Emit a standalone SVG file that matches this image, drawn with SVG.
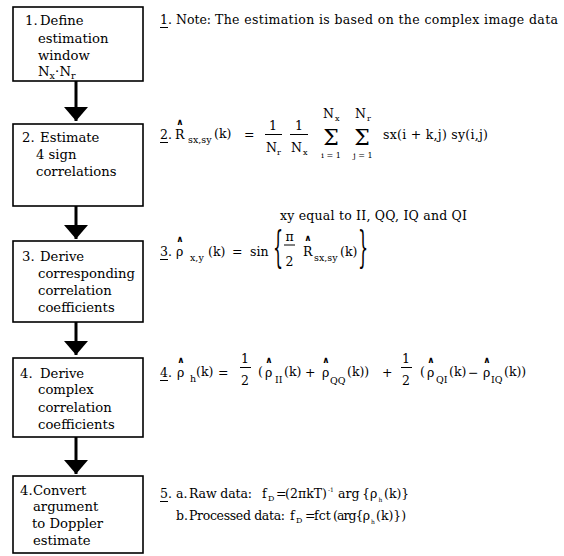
<svg xmlns="http://www.w3.org/2000/svg" width="564" height="556" viewBox="0 0 564 556">
<style>
text{font-family:"DejaVu Serif","Liberation Serif",serif;fill:#000}
.b{font-size:13.2px}
.m{font-size:12.5px}
.s{font-size:9.5px}
.t{font-size:8px}
.u{font-size:6px}
.sig{font-size:22px}
.hat{font-family:"DejaVu Sans",sans-serif;font-size:9px;font-weight:bold;text-anchor:middle}
.c{text-anchor:middle}
.br{font-size:42px}
.box{fill:#fff;stroke:#000;stroke-width:1.6}
.ln{stroke:#000;stroke-width:1;fill:none}
.shaft{stroke:#000;stroke-width:3;fill:none}
</style>
<defs>
<marker id="ah" viewBox="0 0 14 24" refX="14" refY="12" markerWidth="14" markerHeight="24" markerUnits="userSpaceOnUse" orient="auto">
<path d="M0,0 L14,12 L0,24 z" fill="#000"/>
</marker>
</defs>
<rect width="564" height="556" fill="#fff"/>

<g id="connectors">
<line class="shaft" x1="76" y1="81" x2="76" y2="121" marker-end="url(#ah)"/>
<line class="shaft" x1="76" y1="206" x2="76" y2="239" marker-end="url(#ah)"/>
<line class="shaft" x1="76" y1="322" x2="76" y2="355" marker-end="url(#ah)"/>
<line class="shaft" x1="76" y1="437" x2="76" y2="474" marker-end="url(#ah)"/>
</g>

<g id="node1">
<rect class="box" x="13" y="7" width="130" height="74"/>
<text class="b" y="25"><tspan x="25">1.</tspan><tspan x="40">Define</tspan></text>
<text class="b" x="38" y="43">estimation</text>
<text class="b" x="38" y="60">window</text>
<text class="b" x="38" y="76">N</text><text class="s" x="49.5" y="79">x</text><text class="b" x="55" y="76">·</text><text class="b" x="59.5" y="76">N</text><text class="s" x="71" y="79">r</text>
</g>

<g id="node2">
<rect class="box" x="13" y="124" width="130" height="82"/>
<text class="b" y="142"><tspan x="22">2.</tspan><tspan x="40">Estimate</tspan></text>
<text class="b" x="36" y="159">4 sign</text>
<text class="b" x="36" y="176">correlations</text>
</g>

<g id="node3">
<rect class="box" x="13" y="241" width="130" height="81"/>
<text class="b" y="261"><tspan x="22">3.</tspan><tspan x="40">Derive</tspan></text>
<text class="b" x="38" y="278">corresponding</text>
<text class="b" x="38" y="295">correlation</text>
<text class="b" x="38" y="312">coefficients</text>
</g>

<g id="node4">
<rect class="box" x="13" y="358" width="130" height="79"/>
<text class="b" y="378"><tspan x="20">4.</tspan><tspan x="40">Derive</tspan></text>
<text class="b" x="38" y="394">complex</text>
<text class="b" x="38" y="412">correlation</text>
<text class="b" x="38" y="429">coefficients</text>
</g>

<g id="node5">
<rect class="box" x="13" y="476" width="130" height="77"/>
<text class="b" y="495"><tspan x="20">4.</tspan><tspan x="33">Convert</tspan></text>
<text class="b" x="33" y="511">argument</text>
<text class="b" x="32" y="528">to Doppler</text>
<text class="b" x="33" y="545">estimate</text>
</g>

<g id="note1">
<text class="m" x="160" y="24">1</text><line class="ln" x1="160" y1="27.5" x2="168" y2="27.5"/>
<text class="m" x="168" y="24">. Note:</text>
<text class="m" x="215" y="24" textLength="343">The estimation is based on the complex image data</text>
</g>

<g id="formula2">
<text class="m" x="160" y="139">2</text><line class="ln" x1="160" y1="142.5" x2="168" y2="142.5"/><text class="m" x="168" y="139">.</text>
<text class="hat" x="180" y="125">∧</text>
<text class="m" x="175" y="139">R</text>
<text class="s" x="188" y="143">sx,sy</text>
<text class="m" x="214" y="138">(k)</text>
<text class="m" x="244" y="139">=</text>
<text class="m c" x="273" y="130">1</text><line class="ln" x1="265" y1="134.5" x2="282" y2="134.5"/>
<text class="m" x="266" y="152">N</text><text class="t" x="277" y="155">r</text>
<text class="m c" x="299" y="130">1</text><line class="ln" x1="290" y1="134.5" x2="308" y2="134.5"/>
<text class="m" x="291" y="152">N</text><text class="t" x="303" y="155">x</text>
<text class="sig c" x="331" y="145">Σ</text>
<text class="m" x="323" y="118">N</text><text class="t" x="335" y="121">x</text>
<text class="t c" x="331" y="158">i = 1</text>
<text class="sig c" x="362" y="145">Σ</text>
<text class="m" x="355" y="118">N</text><text class="t" x="367" y="121">r</text>
<text class="t c" x="363" y="158">j = 1</text>
<text class="m" x="383" y="139" textLength="105">sx(i + k,j) sy(i,j)</text>
</g>

<g id="xynote">
<text class="m" x="280" y="219.5" textLength="187">xy equal to II, QQ, IQ and QI</text>
</g>

<g id="formula3">
<text class="m" x="160" y="256">3</text><line class="ln" x1="160" y1="259.5" x2="168" y2="259.5"/><text class="m" x="168" y="256">.</text>
<text class="hat" x="180" y="242">∧</text>
<text class="m" x="176" y="256">ρ</text>
<text class="s" x="190" y="261">x,y</text>
<text class="m" x="208" y="256">(k)</text>
<text class="m" x="232" y="256">=</text>
<text class="m" x="250" y="256">sin</text>
<text class="br" transform="translate(273,262) scale(0.38,1)">{</text>
<text class="m c" x="289.5" y="241">π</text><line class="ln" x1="284" y1="245" x2="295" y2="245"/>
<text class="m c" x="289.5" y="266">2</text>
<text class="hat" x="308" y="241">∧</text>
<text class="m" x="303" y="256">R</text>
<text class="s" x="314" y="261">sx,sy</text>
<text class="m" x="340" y="256">(k)</text>
<text class="br" transform="translate(358,262) scale(0.38,1)">}</text>
</g>

<g id="formula4">
<text class="m" x="160" y="377">4</text><line class="ln" x1="160" y1="380.5" x2="168" y2="380.5"/><text class="m" x="168" y="377">.</text>
<text class="hat" x="181" y="363">∧</text>
<text class="m" x="177" y="377">ρ</text>
<text class="s" x="190" y="382">h</text>
<text class="m" x="196" y="376">(k)</text>
<text class="m" x="218" y="377">=</text>
<text class="m c" x="245" y="363">1</text><line class="ln" x1="240" y1="367.5" x2="251" y2="367.5"/>
<text class="m c" x="245" y="385">2</text>
<text class="m" x="258" y="376">(</text>
<text class="hat" x="269" y="363">∧</text>
<text class="m" x="265" y="377">ρ</text>
<text class="s" x="275" y="383">II</text>
<text class="m" x="284" y="376">(k)</text>
<text class="m" x="305" y="377">+</text>
<text class="hat" x="326" y="363">∧</text>
<text class="m" x="322" y="377">ρ</text>
<text class="s" x="330" y="384">QQ</text>
<text class="m" x="347" y="376">(k))</text>
<text class="m" x="382" y="377">+</text>
<text class="m c" x="406" y="363">1</text><line class="ln" x1="401" y1="367.5" x2="412" y2="367.5"/>
<text class="m c" x="406" y="385">2</text>
<text class="m" x="420" y="376">(</text>
<text class="hat" x="431" y="363">∧</text>
<text class="m" x="427" y="377">ρ</text>
<text class="s" x="436" y="383">QI</text>
<text class="m" x="449" y="376">(k)</text>
<text class="m" x="468" y="377">−</text>
<text class="hat" x="487" y="363">∧</text>
<text class="m" x="483" y="377">ρ</text>
<text class="s" x="491" y="383">IQ</text>
<text class="m" x="504" y="376">(k))</text>
</g>

<g id="formula5">
<text class="m" x="160" y="498">5</text><line class="ln" x1="160" y1="501.5" x2="168" y2="501.5"/><text class="m" x="168" y="498">.</text>
<text class="m" x="176" y="498">a.</text>
<text class="m" x="189" y="498" textLength="63">Raw data:</text>
<text class="m" x="262" y="498">f</text><text class="t" x="268" y="501">D</text>
<text class="m" x="276" y="498">=</text>
<text class="m" x="285" y="498" textLength="42">(2πkT)</text>
<text class="u" x="328" y="492">-1</text>
<text class="m" x="338" y="498">arg</text>
<text class="m" x="362" y="498">{ρ</text>
<text class="u" x="378.5" y="502">h</text>
<text class="m" x="384" y="498">(k)}</text>
<text class="m" x="176" y="520">b.</text>
<text class="m" x="189" y="520" textLength="96">Processed data:</text>
<text class="m" x="290" y="520">f</text><text class="t" x="296" y="523">D</text>
<text class="m" x="305" y="520">=</text>
<text class="m" x="314" y="520">fct</text>
<text class="m" x="333" y="520" textLength="37">(arg{ρ</text>
<text class="u" x="371" y="524">h</text>
<text class="m" x="376" y="520">(k)})</text>
</g>
</svg>
